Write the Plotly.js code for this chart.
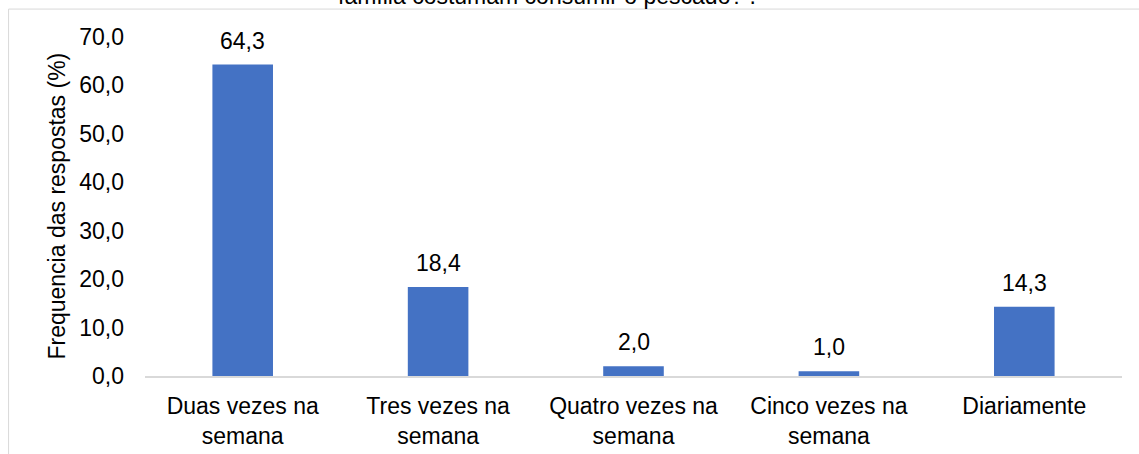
<!DOCTYPE html>
<html>
<head>
<meta charset="utf-8">
<script src="https://cdn.plot.ly/plotly-3.0.1.min.js"></script>
<style>
html,body{margin:0;padding:0;background:#fff;}
#chart{width:1139px;height:454px;}
</style>
</head>
<body>
<div id="chart"></div>
<script>
const categories = ["Duas vezes na<br>semana", "Tres vezes na<br>semana", "Quatro vezes na<br>semana", "Cinco vezes na<br>semana", "Diariamente"];
const values = [64.3, 18.4, 2.0, 1.0, 14.3];
const yTickValues = [0, 10, 20, 30, 40, 50, 60, 70];
const titleText = "família costumam consumir o pescado? .";
const yTitleText = "Frequencia das respostas (%)";

const fmt = v => v.toFixed(1).replace('.', ',');
const FONT = "Liberation Sans, Arial, sans-serif";
const FS = 23;

const W = 1139, H = 454;
const L = 145, R = 16.5, T = 37.4, B = 78;
const pw = W - L - R, ph = H - T - B;
const px = x => (x - L) / pw;
const py = y => (H - B - y) / ph;

const trace = {
  type: 'bar',
  x: categories,
  y: values,
  marker: {color: '#4472c4'},
  hoverinfo: 'none',
  cliponaxis: false
};

const annotations = categories.map((c, i) => ({
  x: c, y: values[i], xref: 'x', yref: 'y',
  text: fmt(values[i]), showarrow: false,
  yanchor: 'bottom', yshift: 9,
  font: {family: FONT, size: FS, color: '#000'}
}));
annotations.push({
  xref: 'paper', yref: 'paper', x: px(547), y: py(-3.5),
  xanchor: 'center', yanchor: 'middle', showarrow: false,
  text: titleText, font: {family: FONT, size: FS, color: '#000'}
});
annotations.push({
  xref: 'paper', yref: 'paper', x: px(56), y: 0.5,
  xanchor: 'center', yanchor: 'middle', showarrow: false, textangle: -90,
  text: yTitleText, font: {family: FONT, size: FS, color: '#000'}
});

const layout = {
  width: W, height: H,
  margin: {l: L, r: R, t: T, b: B, pad: 0},
  paper_bgcolor: '#fff', plot_bgcolor: '#fff',
  separators: ', ',
  showlegend: false,
  bargap: 0.69,
  font: {family: FONT, size: FS, color: '#000'},
  xaxis: {
    type: 'category',
    showline: true, linecolor: '#d9d9d9', linewidth: 2,
    showgrid: false, zeroline: false, ticks: '',
    ticklabelstandoff: 8,
    tickfont: {family: FONT, size: FS, color: '#000'},
    fixedrange: true
  },
  yaxis: {
    range: [0, 70], tickvals: yTickValues, tickformat: '.1f',
    showgrid: false, zeroline: false, showline: false, ticks: '',
    ticklabelstandoff: 20,
    tickfont: {family: FONT, size: FS, color: '#000'},
    fixedrange: true
  },
  annotations: annotations,
  shapes: [{
    type: 'path', xref: 'paper', yref: 'paper',
    path: `M ${px(8.5)} ${py(470)} L ${px(8.5)} ${py(9.5)} L ${px(1200)} ${py(9.5)}`,
    line: {color: '#d9d9d9', width: 1}
  }]
};

Plotly.newPlot('chart', [trace], layout, {staticPlot: true, displayModeBar: false});
</script>
</body>
</html>
